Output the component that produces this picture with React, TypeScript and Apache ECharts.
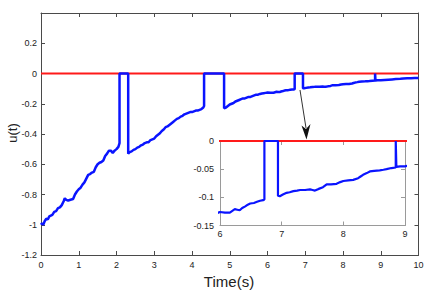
import React, { useEffect, useRef } from "react";
import * as echarts from "echarts";

// Control signal u(t)
const timeS = [
  0, 0.03, 0.06, 0.1, 0.14, 0.18, 0.22, 0.26, 0.3, 0.35, 0.4, 0.45, 0.5, 0.55, 0.6, 0.63, 0.67, 0.72, 0.78, 0.85,
  0.9, 0.95, 1.0, 1.05, 1.1, 1.15, 1.2, 1.25, 1.3, 1.35, 1.4, 1.45, 1.5, 1.55, 1.6, 1.65, 1.7, 1.75, 1.8, 1.85,
  1.9, 1.95, 2.0, 2.05, 2.08, 2.08, 2.31, 2.31,
  2.35, 2.4, 2.45, 2.5, 2.55, 2.6, 2.65, 2.7, 2.75, 2.8, 2.85, 2.9, 2.95, 3.0, 3.05, 3.1, 3.15, 3.2, 3.25, 3.3,
  3.35, 3.4, 3.45, 3.5, 3.55, 3.6, 3.65, 3.7, 3.75, 3.8, 3.85, 3.9, 3.95, 4.0, 4.05, 4.1, 4.15, 4.2, 4.25, 4.3,
  4.32, 4.32, 4.85, 4.85,
  4.9, 4.95, 5.0, 5.05, 5.1, 5.15, 5.2, 5.25, 5.3, 5.35, 5.4, 5.45, 5.5, 5.55, 5.6, 5.65, 5.7, 5.75, 5.8, 5.85,
  5.9, 5.95, 6.0, 6.08, 6.16, 6.2, 6.24, 6.28, 6.32, 6.36, 6.41, 6.45, 6.49, 6.55, 6.6, 6.65, 6.7, 6.72,
  6.72, 6.94, 6.94,
  6.97, 7.02, 7.08, 7.13, 7.19, 7.25, 7.3, 7.38, 7.46, 7.5, 7.54, 7.6, 7.67, 7.73, 7.8, 7.89, 7.95, 8.0, 8.08,
  8.16, 8.24, 8.28, 8.32, 8.38, 8.43, 8.5, 8.59, 8.65, 8.7, 8.78, 8.85, 8.85, 8.86,
  8.92, 9.0, 9.1, 9.2, 9.3, 9.4, 9.52, 9.6, 9.7, 9.8, 9.9, 10.0,
];
const uValues = [
  -1.0, -0.99, -1.0, -0.975, -0.96, -0.965, -0.945, -0.94, -0.935, -0.915, -0.91, -0.89, -0.885, -0.87, -0.845,
  -0.825, -0.835, -0.84, -0.835, -0.83, -0.8, -0.78, -0.765, -0.755, -0.735, -0.72, -0.695, -0.67, -0.665, -0.655,
  -0.65, -0.62, -0.6, -0.59, -0.585, -0.575, -0.545, -0.53, -0.51, -0.51, -0.525, -0.51, -0.5, -0.485, -0.46,
  0, 0, -0.53,
  -0.52, -0.515, -0.505, -0.5, -0.49, -0.485, -0.475, -0.47, -0.46, -0.455, -0.455, -0.44, -0.435, -0.43, -0.415,
  -0.405, -0.395, -0.38, -0.37, -0.355, -0.35, -0.34, -0.33, -0.32, -0.31, -0.3, -0.295, -0.285, -0.28, -0.27,
  -0.265, -0.26, -0.255, -0.255, -0.25, -0.245, -0.245, -0.24, -0.235, -0.225,
  -0.215, 0, 0, -0.23,
  -0.225, -0.215, -0.205, -0.2, -0.195, -0.185, -0.18, -0.175, -0.17, -0.165, -0.165, -0.16, -0.155, -0.155,
  -0.15, -0.145, -0.14, -0.14, -0.135, -0.132, -0.13, -0.128, -0.126, -0.127, -0.127, -0.124, -0.121, -0.122,
  -0.123, -0.119, -0.116, -0.113, -0.111, -0.11, -0.108, -0.106, -0.105, -0.104,
  0, 0, -0.097,
  -0.098, -0.095, -0.092, -0.091, -0.089, -0.088, -0.087, -0.087, -0.086, -0.087, -0.088, -0.085, -0.082, -0.077,
  -0.077, -0.076, -0.073, -0.071, -0.07, -0.069, -0.066, -0.063, -0.06, -0.057, -0.054, -0.053, -0.052, -0.051,
  -0.05, -0.048, -0.047, 0, -0.046,
  -0.045, -0.045, -0.043, -0.041, -0.039, -0.037, -0.035, -0.033, -0.032, -0.031, -0.03, -0.029,
];
// Reference (zero) line
const refT = [0, 10];
const refU = [0, 0];

// Axis settings
const mainXTicks = { min: 0, max: 10, interval: 1 };
const mainYTicks = { min: -1.2, max: 0.4, interval: 0.2 };
const insetXTicks = { min: 6, max: 9, interval: 1 };
const insetYTicks = { min: -0.15, max: 0, interval: 0.05 };

const FONT = "'Liberation Sans', Arial, Helvetica, sans-serif";

export default function App() {
  const ref = useRef<HTMLDivElement>(null);

  useEffect(() => {
    if (!ref.current) return;
    const chart = echarts.init(ref.current, undefined, { renderer: "svg" });

    const uData = timeS.map((t, i) => [t, uValues[i]]);
    const refData = refT.map((t, i) => [t, refU[i]]);

    const mainAxisColor = "#4a4a4a";
    const insetAxisColor = "#9a9a9a";

    const axisBase = (color: string, showLabel: boolean, margin: number) => ({
      type: "value" as const,
      axisLine: { show: true, onZero: false, lineStyle: { color, width: 1 } },
      axisTick: { show: true, inside: true, length: 4, lineStyle: { color } },
      axisLabel: {
        show: showLabel,
        color: "#222",
        fontSize: 9,
        fontFamily: FONT,
        margin,
      },
      splitLine: { show: false },
    });

    chart.setOption({
      animation: false,
      backgroundColor: "#fff",
      grid: [
        { left: 41, top: 13, width: 377.5, height: 242, show: false },
        {
          left: 220,
          top: 141,
          width: 185,
          height: 84.5,
          show: true,
          backgroundColor: "#fff",
          borderWidth: 0,
          z: 5,
        },
      ],
      xAxis: [
        { ...axisBase(mainAxisColor, true, 5), ...mainXTicks, gridIndex: 0, position: "bottom" },
        { ...axisBase(mainAxisColor, false, 5), ...mainXTicks, gridIndex: 0, position: "top" },
        { ...axisBase(insetAxisColor, true, 4), ...insetXTicks, gridIndex: 1, position: "bottom", z: 6 },
        { ...axisBase(insetAxisColor, false, 4), ...insetXTicks, gridIndex: 1, position: "top", z: 6 },
      ],
      yAxis: [
        {
          ...axisBase(mainAxisColor, true, 4),
          ...mainYTicks,
          gridIndex: 0,
          position: "left",
          axisLabel: {
            ...axisBase(mainAxisColor, true, 4).axisLabel,
            formatter: (v: number) => (v > 0.3 ? "" : String(Math.round(v * 10) / 10)),
          },
        },
        { ...axisBase(mainAxisColor, false, 4), ...mainYTicks, gridIndex: 0, position: "right" },
        {
          ...axisBase(insetAxisColor, true, 6),
          ...insetYTicks,
          gridIndex: 1,
          position: "left",
          z: 6,
          axisLabel: {
            ...axisBase(insetAxisColor, true, 6).axisLabel,
            formatter: (v: number) => String(Math.round(v * 100) / 100),
          },
        },
        { ...axisBase(insetAxisColor, false, 6), ...insetYTicks, gridIndex: 1, position: "right", z: 6 },
      ],
      series: [
        {
          type: "line",
          xAxisIndex: 0,
          yAxisIndex: 0,
          data: refData,
          showSymbol: false,
          lineStyle: { color: "#ff1a1a", width: 1.8 },
          z: 2,
        },
        {
          type: "line",
          xAxisIndex: 0,
          yAxisIndex: 0,
          data: uData,
          showSymbol: false,
          lineStyle: { color: "#0a14ff", width: 2.5 },
          z: 3,
        },
        {
          type: "line",
          xAxisIndex: 2,
          yAxisIndex: 2,
          data: refData,
          showSymbol: false,
          clip: true,
          lineStyle: { color: "#ff1a1a", width: 1.8 },
          z: 7,
        },
        {
          type: "line",
          xAxisIndex: 2,
          yAxisIndex: 2,
          data: uData,
          showSymbol: false,
          clip: true,
          lineStyle: { color: "#0a14ff", width: 2.2 },
          z: 8,
        },
      ],
      graphic: [
        {
          type: "line",
          shape: { x1: 300, y1: 90, x2: 306, y2: 128 },
          style: { stroke: "#333", lineWidth: 1 },
          z: 20,
        },
        {
          type: "polygon",
          shape: {
            points: [
              [301.5, 125.5],
              [306.5, 139.5],
              [310.5, 124],
              [306, 129],
            ],
          },
          style: { fill: "#111" },
          z: 20,
        },
        {
          type: "text",
          x: 229,
          y: 281,
          style: {
            text: "Time(s)",
            fontSize: 15,
            fontFamily: FONT,
            fill: "#222",
            textAlign: "center",
            textVerticalAlign: "middle",
          },
          z: 20,
        },
        {
          type: "text",
          x: 12,
          y: 133,
          rotation: Math.PI / 2,
          style: {
            text: "u(t)",
            fontSize: 13,
            fontFamily: FONT,
            fill: "#222",
            textAlign: "center",
            textVerticalAlign: "middle",
          },
          z: 20,
        },
      ],
    });

    return () => chart.dispose();
  }, []);

  return <div ref={ref} style={{ width: 434, height: 291, position: "absolute", left: 0, top: 0 }} />;
}
